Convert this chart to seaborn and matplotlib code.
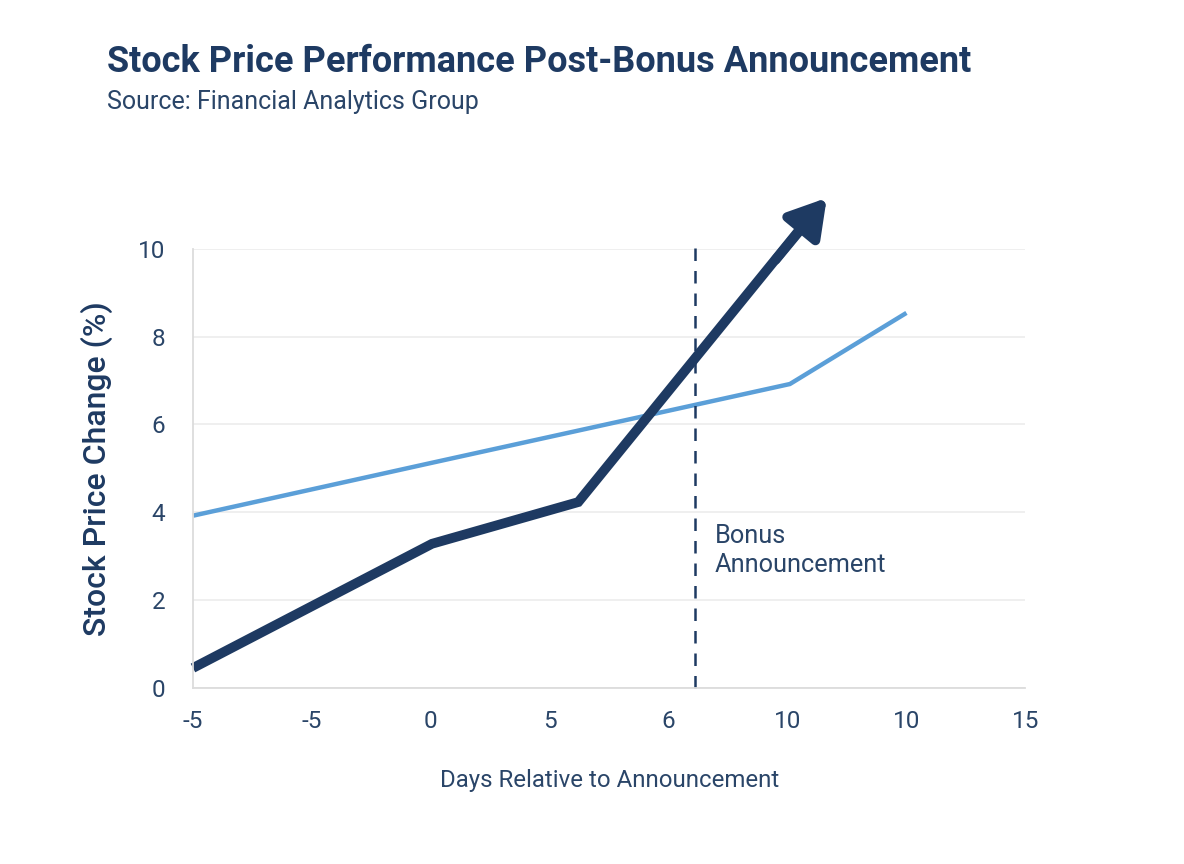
import matplotlib
matplotlib.use("Agg")
import matplotlib.pyplot as plt
import seaborn as sns

# -------------------------------
# DATA
# -------------------------------
tick_positions = [0, 1, 2, 3, 4, 5, 6, 7]
tick_labels = ["-5", "-5", "0", "5", "6", "10", "10", "15"]

stock_x = [0, 2.01, 3.24, 5.1]
stock_y = [0.45, 3.28, 4.23, 10.43]
arrow_start = (4.9, 9.75)
arrow_tip = (5.33, 11.16)

bench_x = [0, 2.0, 5.02, 6.0]
bench_y = [3.92, 5.12, 6.92, 8.54]

announce_x = 4.22

NAVY = "#1e3a62"
LIGHT = "#5b9fd8"
TEXT = "#2a4568"

# -------------------------------
# PLOT
# -------------------------------
sns.set_style("white")
plt.rcParams["font.family"] = ["Roboto", "DejaVu Sans"]

fig = plt.figure(figsize=(11.84, 8.64), dpi=100)
ax = fig.add_axes([0.163, 0.204, 0.703, 0.508])

sns.lineplot(x=bench_x, y=bench_y, ax=ax, color=LIGHT, linewidth=3.2)
sns.lineplot(x=stock_x, y=stock_y, ax=ax, color=NAVY, linewidth=7)
for ln in ax.lines:
    ln.set_clip_on(False)
    ln.set_solid_capstyle("butt")
    ln.set_solid_joinstyle("miter")

ax.annotate("", xy=arrow_tip, xytext=arrow_start,
            arrowprops=dict(arrowstyle="-|>,head_length=1.0,head_width=0.6",
                            color=NAVY, lw=7, mutation_scale=22,
                            shrinkA=0, shrinkB=0),
            annotation_clip=False)

ax.plot([announce_x, announce_x], [0, 10.1], color=NAVY, lw=1.8,
        linestyle=(0, (5, 4)), clip_on=False)
ax.text(announce_x + 0.17, 3.12, "Bonus\nAnnouncement", color=TEXT,
        fontsize=18.3, va="center", ha="left", linespacing=1.25)

ax.set_xlim(0, 7)
ax.set_ylim(0, 10)
ax.set_xticks(tick_positions)
ax.set_xticklabels(tick_labels)
ax.set_yticks([0, 2, 4, 6, 8, 10])
ax.yaxis.grid(True, color="#ececec", lw=1.2)
ax.xaxis.grid(False)
for side in ["top", "right"]:
    ax.spines[side].set_visible(False)
for side in ["left", "bottom"]:
    ax.spines[side].set_color("#dcdcdc")
    ax.spines[side].set_linewidth(1.3)
ax.tick_params(axis="x", colors="#cfcfcf", length=7, width=1.2, pad=9,
               labelsize=17.5, labelcolor=TEXT)
ax.tick_params(axis="y", length=0, pad=20, labelsize=17.5, labelcolor=TEXT)

ax.set_xlabel("Days Relative to Announcement", fontsize=17.3, color=TEXT,
              labelpad=26)
ax.set_ylabel("Stock Price Change (%)", fontsize=23, color=NAVY,
              fontweight="medium", labelpad=18)

fig.text(0.090, 0.928, "Stock Price Performance Post-Bonus Announcement",
         fontsize=26, fontweight="bold", color=NAVY, va="center")
fig.text(0.090, 0.882, "Source: Financial Analytics Group",
         fontsize=18, color=TEXT, va="center")

plt.savefig("out.png", dpi=100, facecolor="white")
